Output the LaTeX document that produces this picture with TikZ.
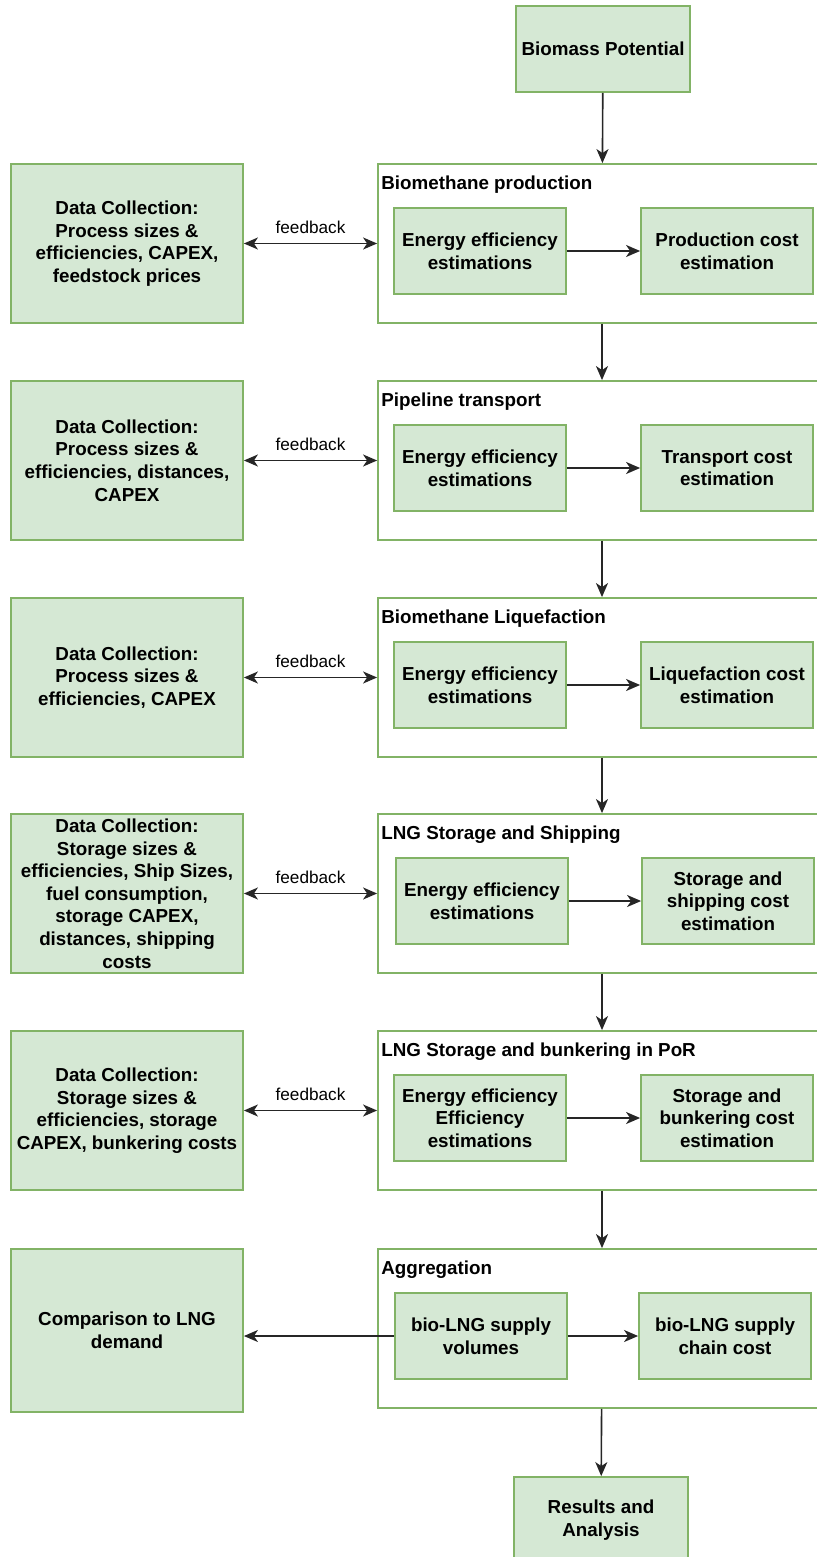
\documentclass[tikz,border=0pt]{standalone}
\usepackage{fontspec}
\setmainfont{Liberation Sans}
\usetikzlibrary{arrows.meta}
\definecolor{boxfill}{HTML}{D5E8D4}
\definecolor{boxline}{HTML}{82B366}

\begin{document}
\begin{tikzpicture}[
  x=0.5pt,y=-0.5pt,
  every node/.style={align=center,font=\fontsize{9.4}{11.3}\selectfont\bfseries},
  data/.style={draw=boxline,line width=0.9pt,fill=boxfill,inner sep=0pt,minimum width=116pt,minimum height=79.5pt},
  group/.style={draw=boxline,line width=0.9pt,fill=white,inner sep=0pt,minimum width=224pt,minimum height=79.5pt},
  task/.style={draw=boxline,line width=0.9pt,fill=boxfill,inner sep=0pt,minimum width=86pt,minimum height=43pt},
  title/.style={anchor=west,inner sep=0pt},
  to/.style={-{Stealth[length=7pt,width=6pt,inset=2pt]},line width=0.8pt,draw=black!85},
  both/.style={{Stealth[length=7pt,width=6pt,inset=2pt]}-{Stealth[length=7pt,width=6pt,inset=2pt]},line width=0.8pt,draw=black!85},
  fb/.style={font=\fontsize{8.6}{10}\selectfont,above=1pt}]

  \useasboundingbox (0,0) rectangle (817,1557);
  \clip (0,0) rectangle (817,1557);

  % Start and end of the chain
  \node[task,minimum width=87pt] (biomass) at (603,49) {Biomass Potential};
  \node[task,minimum width=87pt] (results) at (601,1520) {Results and\\Analysis};

  % Biomethane production
  \node[data] (data1) at (127,243.5) {Data Collection:\\Process sizes \&\\efficiencies, CAPEX,\\feedstock prices};
  \node[group] (prod) at (602,243.5) {};
  \node[title] (prodtitle) at (381,185) {Biomethane production};
  \node[task] (prodeff) at (480,251) {Energy efficiency\\estimations};
  \node[task] (prodcost) at (727,251) {Production cost\\estimation};

  % Pipeline transport
  \node[data] (data2) at (127,460.5) {Data Collection:\\Process sizes \&\\efficiencies, distances,\\CAPEX};
  \node[group] (pipe) at (602,460.5) {};
  \node[title] (pipetitle) at (381,402) {Pipeline transport};
  \node[task] (pipeeff) at (480,468) {Energy efficiency\\estimations};
  \node[task] (pipecost) at (727,468) {Transport cost\\estimation};

  % Biomethane liquefaction
  \node[data] (data3) at (127,677.5) {Data Collection:\\Process sizes \&\\efficiencies, CAPEX};
  \node[group] (liq) at (602,677.5) {};
  \node[title] (liqtitle) at (381,619) {Biomethane Liquefaction};
  \node[task] (liqeff) at (480,685) {Energy efficiency\\estimations};
  \node[task] (liqcost) at (727,685) {Liquefaction cost\\estimation};

  % LNG storage and shipping
  \node[data] (data4) at (127,893.5) {Data Collection:\\Storage sizes \&\\efficiencies, Ship Sizes,\\fuel consumption,\\storage CAPEX,\\distances, shipping\\costs};
  \node[group] (ship) at (602,893.5) {};
  \node[title] (shiptitle) at (381,835) {LNG Storage and Shipping};
  \node[task] (shipeff) at (482,901) {Energy efficiency\\estimations};
  \node[task] (shipcost) at (728,901) {Storage and\\shipping cost\\estimation};

  % LNG storage and bunkering
  \node[data] (data5) at (127,1110.5) {Data Collection:\\Storage sizes \&\\efficiencies, storage\\CAPEX, bunkering costs};
  \node[group] (bunk) at (602,1110.5) {};
  \node[title] (bunktitle) at (381,1052) {LNG Storage and bunkering in PoR};
  \node[task] (bunkeff) at (480,1118) {Energy efficiency\\Efficiency\\estimations};
  \node[task] (bunkcost) at (727,1118) {Storage and\\bunkering cost\\estimation};

  % Aggregation
  \node[data,minimum height=81.5pt] (compare) at (127,1330.5) {Comparison to LNG\\demand};
  \node[group] (agg) at (602,1328.5) {};
  \node[title] (aggtitle) at (381,1270) {Aggregation};
  \node[task] (aggvol) at (481,1336) {bio-LNG supply\\volumes};
  \node[task] (aggcost) at (725,1336) {bio-LNG supply\\chain cost};

  % Flow down the chain
  \draw[to] (biomass) -- (prod);
  \draw[to] (prod) -- (pipe);
  \draw[to] (pipe) -- (liq);
  \draw[to] (liq) -- (ship);
  \draw[to] (ship) -- (bunk);
  \draw[to] (bunk) -- (agg);
  \draw[to] (agg) -- (results);

  % Steps inside each group
  \draw[to] (prodeff) -- (prodcost);
  \draw[to] (pipeeff) -- (pipecost);
  \draw[to] (liqeff) -- (liqcost);
  \draw[to] (shipeff) -- (shipcost);
  \draw[to] (bunkeff) -- (bunkcost);
  \draw[to] (aggvol) -- (aggcost);
  \draw[to] (aggvol.west) -- (aggvol.west -| compare.east);

  % Feedback to data collection
  \draw[both] (data1) -- node[fb] {feedback} (prod);
  \draw[both] (data2) -- node[fb] {feedback} (pipe);
  \draw[both] (data3) -- node[fb] {feedback} (liq);
  \draw[both] (data4) -- node[fb] {feedback} (ship);
  \draw[both] (data5) -- node[fb] {feedback} (bunk);
\end{tikzpicture}
\end{document}
